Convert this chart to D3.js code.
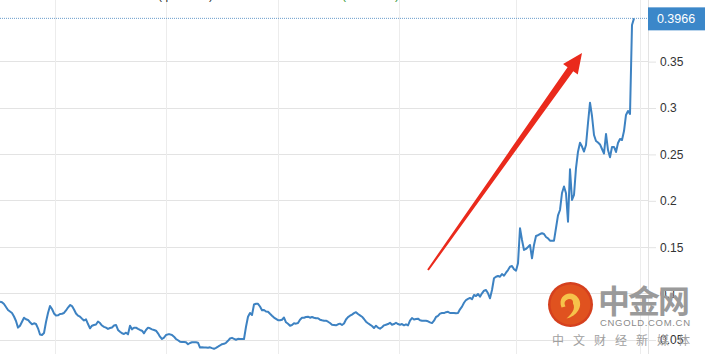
<!DOCTYPE html>
<html><head><meta charset="utf-8">
<script src="https://cdn.jsdelivr.net/npm/d3@7"></script>
<style>html,body{margin:0;padding:0;background:#fff;overflow:hidden}svg{display:block}</style>
</head><body>
<svg id="c" width="705" height="354"></svg>
<script>
const prices = [
0.0913,0.0907,0.0888,0.0856,0.0823,0.0807,0.0791,0.0753,0.0705,0.0633,
0.0654,0.0697,0.0740,0.0723,0.0716,0.0691,0.0669,0.0680,0.0672,0.0626,
0.0559,0.0554,0.0575,0.0694,0.0791,0.0866,0.0834,0.0786,0.0764,0.0766,
0.0780,0.0783,0.0791,0.0818,0.0850,0.0877,0.0866,0.0829,0.0786,0.0762,
0.0751,0.0730,0.0710,0.0723,0.0672,0.0626,0.0654,0.0662,0.0667,0.0699,
0.0683,0.0656,0.0642,0.0633,0.0619,0.0629,0.0635,0.0656,0.0662,0.0608,
0.0589,0.0572,0.0565,0.0579,0.0561,0.0654,0.0615,0.0633,0.0633,0.0619,
0.0608,0.0600,0.0572,0.0608,0.0633,0.0626,0.0615,0.0608,0.0600,0.0572,
0.0536,0.0511,0.0525,0.0554,0.0561,0.0561,0.0554,0.0536,0.0511,0.0497,
0.0482,0.0478,0.0478,0.0475,0.0454,0.0468,0.0475,0.0475,0.0475,0.0471,
0.0419,0.0422,0.0419,0.0419,0.0416,0.0421,0.0412,0.0405,0.0416,0.0428,
0.0441,0.0455,0.0459,0.0470,0.0491,0.0516,0.0523,0.0513,0.0503,0.0513,
0.0511,0.0511,0.0511,0.0643,0.0751,0.0791,0.0769,0.0883,0.0891,0.0890,
0.0861,0.0820,0.0823,0.0807,0.0805,0.0783,0.0762,0.0742,0.0728,0.0714,
0.0712,0.0718,0.0742,0.0691,0.0675,0.0654,0.0662,0.0680,0.0676,0.0683,
0.0719,0.0740,0.0740,0.0748,0.0751,0.0740,0.0748,0.0740,0.0734,0.0734,
0.0719,0.0712,0.0708,0.0708,0.0697,0.0683,0.0665,0.0662,0.0658,0.0669,
0.0676,0.0662,0.0678,0.0721,0.0746,0.0762,0.0774,0.0789,0.0800,0.0780,
0.0766,0.0751,0.0726,0.0697,0.0680,0.0665,0.0651,0.0629,0.0654,0.0633,
0.0622,0.0637,0.0658,0.0665,0.0672,0.0686,0.0665,0.0672,0.0686,0.0672,
0.0665,0.0672,0.0658,0.0669,0.0658,0.0708,0.0737,0.0721,0.0726,0.0730,
0.0713,0.0708,0.0708,0.0707,0.0702,0.0690,0.0682,0.0708,0.0748,0.0759,
0.0784,0.0791,0.0790,0.0800,0.0804,0.0791,0.0791,0.0791,0.0788,0.0790,
0.0831,0.0860,0.0901,0.0931,0.0943,0.0953,0.0939,0.0985,0.0974,0.0996,
0.0967,0.1003,0.1031,0.1039,0.1003,0.0949,0.1039,0.1165,0.1182,0.1190,
0.1182,0.1211,0.1193,0.1225,0.1254,0.1290,0.1297,0.1262,0.1247,0.1327,
0.1704,0.1578,0.1470,0.1481,0.1502,0.1524,0.1380,0.1524,0.1621,0.1629,
0.1642,0.1650,0.1642,0.1610,0.1596,0.1570,0.1570,0.1570,0.1707,0.1842,
0.1901,0.2084,0.2154,0.2081,0.1775,0.2339,0.2009,0.2063,0.2353,0.2529,
0.2626,0.2585,0.2531,0.2601,0.2838,0.3057,0.2914,0.2709,0.2644,0.2628,
0.2607,0.2558,0.2510,0.2720,0.2547,0.2469,0.2580,0.2580,0.2526,0.2623,
0.2666,0.2655,0.2752,0.2925,0.2968,0.2935,0.3894,0.3966
];
const yTicks = [0.05, 0.1, 0.15, 0.2, 0.25, 0.3, 0.35];
const xGridIdx = [27.5, 83, 139, 199.5, 258, 320];
const lastPrice = 0.3966;
const lastLabel = "0.3966";
const legendLeft = "(price)";
const legendRight = "(+5.21%)";
const brandCn = "中金网";
const brandEn = "CNGOLD.COM.CN";
const brandSub = "中 文 财 经 新 媒 体";

const svg = d3.select("#c");
const plotR = 648;
const x = d3.scaleLinear().domain([0, prices.length - 1]).range([0, 634]);
const y = d3.scaleLinear().domain([0.05, 0.35]).range([340, 61.6]);

svg.append("rect").attr("width",705).attr("height",354).attr("fill","#fff");

// horizontal grid
svg.append("g").selectAll("line").data(yTicks).join("line")
  .attr("x1",0).attr("x2",plotR).attr("y1",d=>y(d)).attr("y2",d=>y(d))
  .attr("stroke","#e3e3e3").attr("stroke-width",1).attr("shape-rendering","crispEdges");
// vertical grid
svg.append("g").selectAll("line").data(xGridIdx).join("line")
  .attr("x1",d=>Math.round(x(d))+0.5).attr("x2",d=>Math.round(x(d))+0.5).attr("y1",0).attr("y2",354)
  .attr("stroke","#ececec").attr("stroke-width",1);
// right border
svg.append("line").attr("x1",plotR+0.5).attr("x2",plotR+0.5).attr("y1",0).attr("y2",354)
  .attr("stroke","#e3e3e3");

// right axis
const ax = svg.append("g").attr("transform",`translate(${plotR},0)`)
  .call(d3.axisRight(y).tickValues(yTicks).tickSize(8).tickPadding(4).tickFormat(d=>String(+d.toFixed(2))));
ax.select(".domain").remove();
ax.selectAll(".tick line").attr("stroke","#e3e3e3");
ax.selectAll(".tick text").attr("fill","#333").attr("font-size",12).attr("font-family","Arial, 'Liberation Sans', sans-serif");

// top legend remnants (clipped by the top edge as in the source)
svg.append("text").attr("x",158).attr("y",-1).attr("font-size",12).attr("fill","#333")
  .attr("font-family","Arial, 'Liberation Sans', sans-serif").attr("textLength",55).text(legendLeft);
svg.append("text").attr("x",342).attr("y",-1).attr("font-size",12).attr("fill","#3a9a3a")
  .attr("font-family","Arial, 'Liberation Sans', sans-serif").attr("textLength",57).text(legendRight);

// price line
svg.append("path").datum(prices)
  .attr("d", d3.line().x((d,i)=>x(i)).y(d=>y(d)))
  .attr("fill","none").attr("stroke","#3d82c2").attr("stroke-width",2).attr("stroke-linejoin","round");

// watermark
const wm = svg.append("g");
const cx = 570.5, cy = 304.5;
wm.append("circle").attr("cx",cx).attr("cy",cy).attr("r",22.5).attr("fill","#d5401e");
wm.append("circle").attr("cx",cx).attr("cy",cy).attr("r",20).attr("fill","#e0521f");
wm.append("path").attr("d",`M${cx-9},${cy+3} C${cx-14},${cy-10} ${cx+2},${cy-16} ${cx+8},${cy-6} C${cx+13},${cy+2} ${cx+6},${cy+12} ${cx-4},${cy+14} C${cx+3},${cy+8} ${cx+6},${cy+2} ${cx+1},${cy-3} C${cx-3},${cy-7} ${cx-8},${cy-3} ${cx-5},${cy+2} Z`)
  .attr("fill","#f6c24a");
wm.append("circle").attr("cx",cx-1).attr("cy",cy-2).attr("r",3.5).attr("fill","#e0521f");
wm.append("text").attr("x",598).attr("y",313).attr("font-size",32).attr("font-weight","bold")
  .attr("fill","#9a9a9a").attr("font-family","'Noto Sans CJK SC', sans-serif").attr("textLength",92).text(brandCn);
wm.append("text").attr("x",600).attr("y",326).attr("font-size",9.5).attr("fill","#8a8a8a")
  .attr("font-family","Arial, 'Liberation Sans', sans-serif").attr("textLength",90).text(brandEn);
wm.append("text").attr("x",552).attr("y",345).attr("font-size",12).attr("fill","#a0a0a0")
  .attr("font-family","'Noto Sans CJK SC', sans-serif").attr("textLength",138).text(brandSub);

// last price dotted line and label
svg.append("line").attr("x1",0).attr("x2",plotR).attr("y1",y(lastPrice)).attr("y2",y(lastPrice))
  .attr("stroke","#6a9ccc").attr("stroke-width",1).attr("stroke-dasharray","1,1");
svg.append("rect").attr("x",plotR).attr("y",y(lastPrice)-11).attr("width",57).attr("height",23).attr("fill","#3b87c9");
svg.append("text").attr("x",plotR+28).attr("y",y(lastPrice)+4.5).attr("text-anchor","middle")
  .attr("font-size",12.5).attr("fill","#fff").attr("font-family","Arial, 'Liberation Sans', sans-serif").text(lastLabel);

// red arrow
const ax0 = 428, ay0 = 270, ax1 = 582, ay1 = 53;
const ang = Math.atan2(ay1-ay0, ax1-ax0);
const len = Math.hypot(ax1-ax0, ay1-ay0);
const headL = 20, headW = 9, w0 = 1, w1 = 3.5;
const pts = [[0,-w0],[len-headL,-w1],[len-headL,-headW],[len,0],[len-headL,headW],[len-headL,w1],[0,w0]];
const rot = pts.map(([u,v])=>[ax0+u*Math.cos(ang)-v*Math.sin(ang), ay0+u*Math.sin(ang)+v*Math.cos(ang)]);
svg.append("path").attr("d","M"+rot.map(p=>p.join(",")).join("L")+"Z").attr("fill","#ea2a1c");
</script>
</body></html>
